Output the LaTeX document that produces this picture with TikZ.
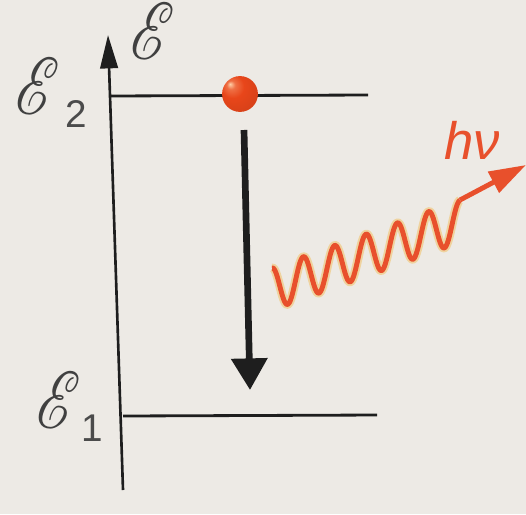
\documentclass[tikz,border=0pt]{standalone}
\usepackage{mathrsfs}
\usepackage{fontspec}
\newfontfamily\lsans{Liberation Sans}
\usetikzlibrary{arrows.meta,shadings}
\definecolor{bgc}{HTML}{EDEAE5}
\definecolor{photon}{HTML}{E8502C}
\definecolor{glow}{HTML}{F2B84A}
\definecolor{ballc}{HTML}{E8461A}
\definecolor{ballhi}{HTML}{FFD0A8}
\definecolor{ink}{HTML}{1E1E1E}
\pgfdeclareradialshading{electronball}{\pgfpoint{-14bp}{14bp}}{%
  color(0bp)=(ballhi); color(6bp)=(ballc!70!ballhi); color(16bp)=(ballc);
  color(40bp)=(ballc!90!black); color(60bp)=(ballc!80!black)}
\tikzset{
  level/.style={draw=ink, line width=1.6pt},
  axisline/.style={draw=ink, line width=1.5pt, -{Triangle[width=10pt,length=19pt]}},
  transition/.style={draw=ink, line width=3.8pt, -{Triangle[width=20pt,length=18pt]}},
  scriptE/.style={inner sep=0pt, text=ink!85, xscale=3.4, yscale=4.6},
  sub/.style={inner sep=0pt, text=ink!80, font=\lsans\fontsize{22}{22}\selectfont},
}
\begin{document}
\begin{tikzpicture}[x=0.02cm, y=-0.02cm, line cap=butt]
\fill[bgc] (0,0) rectangle (526,514);
\useasboundingbox (0,0) rectangle (526,514);
% axis
\coordinate (a0) at (123,490);
\coordinate (a1) at (108,35);
\draw[axisline] (a0) -- (a1);
\node[scriptE] (E) at (153,31) {$\mathscr{E}$};
% levels
\coordinate (l2a) at (110,96);
\coordinate (l2b) at (368,95);
\coordinate (l1a) at (123,416);
\coordinate (l1b) at (377,415);
\draw[level] (l2a) -- (l2b);
\draw[level] (l1a) -- (l1b);
\node[scriptE] (E2) at (38,86) {$\mathscr{E}$};
\node[sub] (s2) at (76,114) {2};
\node[scriptE] (E1) at (59,400) {$\mathscr{E}$};
\node[sub] (s1) at (92,428) {1};
% electron
\node[circle, minimum size=20.4pt, inner sep=0pt, shading=electronball] (ball) at (240,94) {};
% transition arrow
\coordinate (t0) at (244,130);
\coordinate (t1) at (250,390);
\draw[transition] (t0) -- (t1);
% photon
\coordinate (p1) at (460,200);
\coordinate (p2) at (526,165);
\foreach \w/\c/\o in {5pt/glow/0.45, 2.8pt/photon/1}{
  \draw[\c, line width=\w, opacity=\o, line join=round]
    plot[domain=0:188, samples=240, variable=\s]
      ({272+\s},{289-0.36*\s-21*sin(90+\s*11.49)});
}
\draw[photon, line width=2.8pt, -{Triangle[width=13pt,length=21pt]}] (p1) -- (p2);
\node[inner sep=0pt, text=photon] (hv) at (472,140) {\lsans\fontsize{30}{30}\selectfont\textit{hν}};
\end{tikzpicture}
\end{document}
